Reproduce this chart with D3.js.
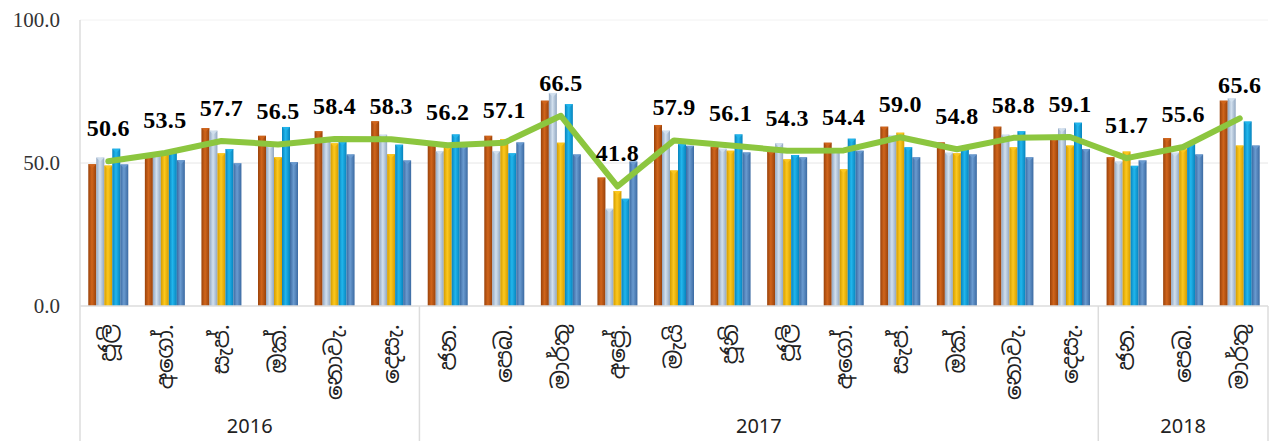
<!DOCTYPE html>
<html>
<head>
<meta charset="utf-8">
<script src="https://cdn.jsdelivr.net/npm/d3@7"></script>
<style>
  body { margin: 0; background: #fff; }
  svg { display: block; }
  .serif { font-family: "Liberation Serif", "Times New Roman", serif; }
</style>
</head>
<body>
<div id="chart"></div>
<script>
// months (Sinhala short names), Jul 2016 - Mar 2018
const months = ["ජූලි", "අගෝ.", "සැප්.", "ඔක්.", "නොවැ.", "දෙසැ.",
                "ජන.", "පෙබ.", "මාර්තු", "අප්‍රේ.", "මැයි", "ජූනි", "ජූලි", "අගෝ.", "සැප්.", "ඔක්.", "නොවැ.", "දෙසැ.",
                "ජන.", "පෙබ.", "මාර්තු"];
const monthYear = ["2016","2016","2016","2016","2016","2016",
                   "2017","2017","2017","2017","2017","2017","2017","2017","2017","2017","2017","2017",
                   "2018","2018","2018"];
const yTicks = [0, 50, 100];

// five bar series
const s1 = [49.6, 52.5, 62.2, 59.5, 61.1, 64.6, 57.0, 59.5, 71.8, 44.9, 63.3, 55.7, 54.0, 57.1, 62.7, 57.2, 62.7, 58.6, 52.0, 58.7, 71.8];
const s2 = [51.9, 53.5, 61.3, 56.3, 58.0, 59.9, 54.2, 54.2, 74.5, 34.0, 61.3, 55.0, 56.9, 54.5, 59.8, 53.6, 59.9, 62.1, 50.5, 53.6, 72.6];
const s3 = [49.1, 53.5, 53.4, 52.0, 56.9, 53.1, 55.7, 58.4, 57.1, 40.2, 47.4, 54.3, 51.3, 47.8, 60.6, 53.4, 55.5, 56.1, 54.0, 54.8, 56.1];
const s4 = [55.0, 54.5, 54.9, 62.6, 57.5, 56.4, 60.0, 53.4, 70.6, 37.5, 56.6, 60.0, 52.8, 58.5, 55.5, 55.0, 61.1, 64.1, 49.0, 56.6, 64.5];
const s5 = [49.5, 51.0, 49.9, 50.3, 53.0, 50.9, 56.0, 57.2, 53.0, 50.5, 56.0, 53.7, 52.0, 54.3, 52.0, 53.0, 52.0, 54.9, 50.9, 53.0, 56.1];
// overall line
const total = [50.6, 53.5, 57.7, 56.5, 58.4, 58.3, 56.2, 57.1, 66.5, 41.8, 57.9, 56.1, 54.3, 54.4, 59.0, 54.8, 58.8, 59.1, 51.7, 55.6, 65.6];

const series = [s1, s2, s3, s4, s5];
const colors = [
  { mid: "#d0651c", edge: "#9a420a" },
  { mid: "#d2e0ee", edge: "#91a7c1" },
  { mid: "#fcc81e", edge: "#d49c00" },
  { mid: "#22b6ec", edge: "#0683bd" },
  { mid: "#6a9bd0", edge: "#3b6aa2" }
];

const width = 1278,
      height = 441,
      margin = ({ top: 20, right: 10, bottom: 135, left: 80 });

const svg = d3.select("#chart")
  .append("svg")
  .attr("width", width)
  .attr("height", height);

const defs = svg.append("defs");
colors.forEach((c, i) => {
  const g = defs.append("linearGradient")
    .attr("id", "grad" + i)
    .attr("x1", "0%").attr("x2", "100%").attr("y1", "0%").attr("y2", "0%");
  g.append("stop").attr("offset", "0%").attr("stop-color", c.edge);
  g.append("stop").attr("offset", "45%").attr("stop-color", c.mid);
  g.append("stop").attr("offset", "100%").attr("stop-color", c.edge);
});

const idx = d3.range(months.length);

const x = d3.scaleBand()
  .domain(idx)
  .range([margin.left, width - margin.right])
  .paddingInner(0.293)
  .paddingOuter(0.1465);

const xs = d3.scaleBand()
  .domain(d3.range(series.length))
  .range([0, x.bandwidth()]);

const y = d3.scaleLinear()
  .domain([0, 100])
  .range([height - margin.bottom, margin.top]);

const grid = "#dcdcdc";

// horizontal gridlines
svg.append("g")
  .selectAll("line")
  .data(yTicks.filter(d => d > 0))
  .join("line")
  .attr("x1", margin.left).attr("x2", width - margin.right)
  .attr("y1", d => y(d)).attr("y2", d => y(d))
  .attr("stroke", (d, i) => i === 1 ? "#f2f2f2" : "#e6e6e6");

// y labels
svg.append("g")
  .selectAll("text")
  .data(yTicks)
  .join("text")
  .attr("class", "serif")
  .attr("x", 60)
  .attr("y", d => y(d))
  .attr("dy", "0.35em")
  .attr("text-anchor", "end")
  .attr("font-size", 21)
  .attr("fill", "#333")
  .text(d => d.toFixed(1));

// bars
const group = svg.append("g")
  .selectAll("g")
  .data(idx)
  .join("g")
  .attr("transform", i => `translate(${x(i)},0)`);

group.selectAll("rect")
  .data(i => series.map((s, k) => ({ k, v: s[i] })))
  .join("rect")
  .attr("x", d => xs(d.k))
  .attr("width", xs.bandwidth())
  .attr("y", d => y(d.v))
  .attr("height", d => y(0) - y(d.v))
  .attr("fill", d => `url(#grad${d.k})`);

// small bevel on top of each column
group.selectAll("path")
  .data(i => series.map((s, k) => ({ k, v: s[i] })))
  .join("path")
  .attr("d", d => {
    const x0 = xs(d.k), w = xs.bandwidth(), y0 = y(d.v);
    return `M${x0},${y0}L${x0 + w},${y0}L${x0 + w / 2},${y0 + 4}Z`;
  })
  .attr("fill", d => colors[d.k].mid)
  .attr("opacity", 0.9);

// axis lines
const base = y(0);
svg.append("line")
  .attr("x1", margin.left).attr("x2", width - margin.right)
  .attr("y1", base).attr("y2", base)
  .attr("stroke", grid).attr("stroke-width", 1.5);

svg.append("line")
  .attr("x1", margin.left).attr("x2", margin.left)
  .attr("y1", margin.top).attr("y2", height)
  .attr("stroke", grid).attr("stroke-width", 1.5);

// year groups
const years = Array.from(d3.group(idx, i => monthYear[i]), ([yr, is]) => ({ yr, first: is[0], last: is[is.length - 1] }));
const step = x.step();
const edgeL = i => x(i) - step * x.paddingInner() / 2;
const edgeR = i => x(i) + x.bandwidth() + step * x.paddingInner() / 2;

svg.append("g")
  .selectAll("line")
  .data(years)
  .join("line")
  .attr("x1", d => edgeR(d.last)).attr("x2", d => edgeR(d.last))
  .attr("y1", base).attr("y2", height)
  .attr("stroke", grid).attr("stroke-width", 1.5);

svg.append("g")
  .selectAll("text")
  .data(years)
  .join("text")
  .attr("x", d => (edgeL(d.first) + edgeR(d.last)) / 2)
  .attr("y", 433)
  .attr("text-anchor", "middle")
  .style("font-family", "'Noto Sans', sans-serif")
  .attr("font-size", 20)
  .attr("fill", "#222")
  .text(d => d.yr);

// month labels (rotated)
svg.append("g")
  .selectAll("text")
  .data(idx)
  .join("text")
  .attr("transform", i => `translate(${x(i) + x.bandwidth() / 2 + 1},324) rotate(-90)`)
  .attr("dy", "0.3em")
  .attr("text-anchor", "end")
  .style("font-family", "'Noto Sans Sinhala', 'Noto Sans', sans-serif")
  .attr("font-size", 23)
  .attr("fill", "#222")
  .text(i => months[i]);

// total line
const cx = i => x(i) + x.bandwidth() / 2;
const line = d3.line()
  .x((d, i) => cx(i))
  .y(d => y(d));

svg.append("path")
  .datum(total)
  .attr("d", line)
  .attr("fill", "none")
  .attr("stroke", "#8cc63f")
  .attr("stroke-width", 6)
  .attr("stroke-linejoin", "round")
  .attr("stroke-linecap", "round");

svg.append("g")
  .selectAll("text")
  .data(total)
  .join("text")
  .attr("class", "serif")
  .attr("x", (d, i) => cx(i))
  .attr("y", d => y(d) - 25)
  .attr("text-anchor", "middle")
  .attr("font-weight", "bold")
  .attr("font-size", 24)
  .attr("letter-spacing", 0.3)
  .attr("fill", "#000")
  .text(d => d.toFixed(1));
</script>
</body>
</html>
